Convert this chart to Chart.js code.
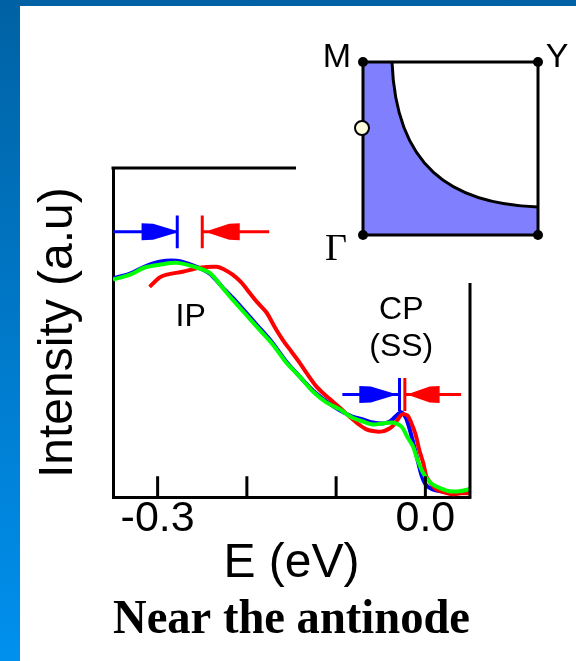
<!DOCTYPE html>
<html>
<head>
<meta charset="utf-8">
<script src="https://cdn.jsdelivr.net/npm/chart.js@4.4.1/dist/chart.umd.min.js"></script>
<style>
  html, body { margin: 0; padding: 0; }
  body { width: 576px; height: 661px; overflow: hidden;
         background: linear-gradient(to bottom, #0062a4, #0090ee); }
  #panel { position: absolute; left: 20px; top: 6px; width: 556px; height: 655px; background: #fff; }
</style>
</head>
<body>
<div id="panel"><canvas id="spectra"></canvas></div>
<script>
// EDCs near the antinode, energy in eV, intensity in arbitrary units (0..100 = frame height)
const blueEnergy = [-0.350, -0.331, -0.315, -0.298, -0.279, -0.259, -0.242, -0.228, -0.216, -0.203,
  -0.189, -0.171, -0.156, -0.141, -0.126, -0.111, -0.096, -0.082, -0.070, -0.059, -0.048, -0.042,
  -0.037, -0.031, -0.027, -0.022, -0.018, -0.014, -0.009, -0.004, 0.001, 0.008, 0.017, 0.027, 0.038, 0.049];
const blueIntensity = [66.5, 67.9, 70.0, 71.5, 71.8, 70.3, 68.0, 64.0, 60.6, 56.7,
  52.4, 46.8, 41.2, 36.7, 32.4, 29.1, 26.4, 24.5, 23.6, 22.7, 22.4, 22.7,
  23.6, 25.2, 25.8, 24.2, 21.0, 17.0, 11.5, 6.4, 3.6, 2.4, 1.8, 1.5, 1.5, 2.4];

const redEnergy = [-0.309, -0.298, -0.290, -0.272, -0.253, -0.234, -0.225, -0.216, -0.206, -0.197,
  -0.188, -0.178, -0.169, -0.160, -0.150, -0.141, -0.132, -0.122, -0.113, -0.104, -0.094, -0.085,
  -0.076, -0.066, -0.057, -0.048, -0.042, -0.037, -0.031, -0.026, -0.020, -0.016, -0.011, -0.007,
  -0.002, 0.001, 0.007, 0.012, 0.021, 0.030, 0.040, 0.049];
const redIntensity = [63.9, 66.7, 67.6, 68.5, 69.7, 70.0, 69.1, 67.6, 65.2, 62.1,
  59.1, 56.1, 51.8, 47.9, 44.2, 40.9, 37.3, 33.6, 31.2, 29.1, 26.7, 24.5,
  22.4, 20.6, 20.0, 20.0, 20.6, 21.5, 23.6, 25.2, 24.8, 22.7, 19.1, 14.5,
  10.0, 6.4, 3.9, 2.4, 1.5, 0.9, 1.2, 1.2];

const greenEnergy = [-0.350, -0.331, -0.315, -0.298, -0.279, -0.259, -0.242, -0.228, -0.216, -0.203,
  -0.189, -0.171, -0.156, -0.141, -0.126, -0.111, -0.096, -0.082, -0.070, -0.059, -0.048, -0.037,
  -0.027, -0.020, -0.014, -0.009, -0.003, 0.002, 0.008, 0.017, 0.027, 0.038, 0.049];
const greenIntensity = [66.1, 67.6, 69.7, 70.6, 71.2, 70.0, 68.2, 63.9, 60.0, 56.1,
  51.8, 46.4, 40.9, 36.7, 32.1, 28.8, 26.7, 24.2, 23.0, 22.1, 22.4, 22.7,
  21.5, 18.2, 15.5, 11.5, 7.6, 5.5, 3.9, 2.7, 1.8, 1.8, 2.4];

const xTickValues = [-0.3, -0.2, -0.1, 0.0];
const xTickLabels = ['-0.3', '', '', '0.0'];

// gap markers: bar position, shaft end, arrowhead back and tip (eV), level (a.u.)
const markerBar = [-0.278, -0.250, -0.029, -0.023];
const markerTail = [-0.350, -0.175, -0.093, 0.040];
const markerHeadBack = [-0.318, -0.208, -0.074, 0.016];
const markerHeadTip = [-0.281, -0.242, -0.037, -0.016];
const markerLevel = [80.6, 80.6, 31.2, 31.2];
const markerColors = ['#0000ff', '#ff0000', '#0000ff', '#ff0000'];

const peakLabels = ['IP', 'CP', '(SS)'];
const peakLabelEnergy = [-0.263, -0.027, -0.027];
const peakLabelIntensity = [54.8, 56.7, 45.5];

const SANS = "'Liberation Sans', Arial, sans-serif";
const SERIF = "'Liberation Serif', 'Times New Roman', serif";

function toPoints(xs, ys) {
  return xs.map((e, i) => ({ x: e, y: ys[i] }));
}

function arrowHead(ctx, back, tip, yc) {
  const dir = Math.sign(tip - back);
  const mid = back + dir * Math.abs(tip - back) * 0.35;
  ctx.beginPath();
  ctx.moveTo(back, yc - 8.5);
  ctx.lineTo(mid, yc - 8);
  ctx.lineTo(tip, yc - 1.5);
  ctx.lineTo(tip, yc + 1.5);
  ctx.lineTo(mid, yc + 8);
  ctx.lineTo(back, yc + 8.5);
  ctx.closePath();
  ctx.fill();
}

const overlay = {
  id: 'overlay',
  afterDatasetsDraw(chart) {
    const { ctx, chartArea: a, scales: { x, y } } = chart;
    ctx.save();
    ctx.strokeStyle = '#000';
    ctx.lineWidth = 3;
    // rest of the frame, partly hidden behind the inset
    ctx.beginPath();
    ctx.moveTo(a.left - 1.5, a.top);
    ctx.lineTo(276, a.top);
    ctx.moveTo(a.right, 277);
    ctx.lineTo(a.right, a.bottom + 1.5);
    ctx.stroke();
    // inward ticks
    ctx.beginPath();
    xTickValues.forEach(v => {
      const px = x.getPixelForValue(v);
      ctx.moveTo(px, a.bottom);
      ctx.lineTo(px, a.bottom - 21);
    });
    ctx.stroke();

    // gap markers
    markerBar.forEach((b, i) => {
      const yc = y.getPixelForValue(markerLevel[i]);
      const bx = x.getPixelForValue(b);
      ctx.strokeStyle = markerColors[i];
      ctx.fillStyle = markerColors[i];
      ctx.lineWidth = 3;
      ctx.beginPath();
      ctx.moveTo(x.getPixelForValue(markerTail[i]), yc);
      ctx.lineTo(bx, yc);
      ctx.moveTo(bx, y.getPixelForValue(markerLevel[i] + 5));
      ctx.lineTo(bx, y.getPixelForValue(markerLevel[i] - 5));
      ctx.stroke();
      arrowHead(ctx, x.getPixelForValue(markerHeadBack[i]), x.getPixelForValue(markerHeadTip[i]), yc);
    });

    // peak labels
    ctx.fillStyle = '#000';
    ctx.font = '32px ' + SANS;
    ctx.textAlign = 'center';
    ctx.textBaseline = 'middle';
    peakLabels.forEach((t, i) => {
      ctx.fillText(t, x.getPixelForValue(peakLabelEnergy[i]), y.getPixelForValue(peakLabelIntensity[i]));
    });
    ctx.restore();
  },
  afterDraw(chart) {
    // Brillouin-zone inset
    const ctx = chart.ctx;
    const L = 343, T = 56, R = 518, B = 229;
    ctx.save();
    ctx.fillStyle = '#8080ff';
    ctx.beginPath();
    ctx.moveTo(L, T);
    ctx.lineTo(372, T);
    ctx.bezierCurveTo(376, 160, 430, 198, R, 201);
    ctx.lineTo(R, B);
    ctx.lineTo(L, B);
    ctx.closePath();
    ctx.fill();
    ctx.strokeStyle = '#000';
    ctx.lineWidth = 3;
    ctx.beginPath();
    ctx.moveTo(372, T);
    ctx.bezierCurveTo(376, 160, 430, 198, R, 201);
    ctx.stroke();
    ctx.strokeRect(L, T, R - L, B - T);
    ctx.fillStyle = '#000';
    [[L, T], [R, T], [L, B], [R, B]].forEach(([cx, cy]) => {
      ctx.beginPath();
      ctx.arc(cx, cy, 5, 0, Math.PI * 2);
      ctx.fill();
    });
    ctx.beginPath();
    ctx.arc(L - 1, 122, 7, 0, Math.PI * 2);
    ctx.fillStyle = '#ffffe0';
    ctx.fill();
    ctx.lineWidth = 2;
    ctx.stroke();
    ctx.fillStyle = '#000';
    ctx.textAlign = 'center';
    ctx.textBaseline = 'alphabetic';
    ctx.font = '34px ' + SANS;
    ctx.fillText('M', 317, 61);
    ctx.fillText('Y', 537, 61);
    ctx.font = '38px ' + SERIF;
    ctx.fillText('\u0393', 316, 254);
    ctx.restore();
  }
};

new Chart(document.getElementById('spectra'), {
  type: 'line',
  data: {
    datasets: [
      { label: 'green', data: toPoints(greenEnergy, greenIntensity), borderColor: '#00ff00', order: 0 },
      { label: 'red', data: toPoints(redEnergy, redIntensity), borderColor: '#ff0000', order: 1 },
      { label: 'blue', data: toPoints(blueEnergy, blueIntensity), borderColor: '#0000ff', order: 2 }
    ]
  },
  options: {
    responsive: true,
    maintainAspectRatio: false,
    animation: false,
    layout: { padding: { top: 162, right: 106, left: 0, bottom: 0 } },
    elements: {
      point: { radius: 0 },
      line: { borderWidth: 4, tension: 0.3, fill: false }
    },
    plugins: {
      legend: { display: false },
      tooltip: { enabled: false },
      title: {
        display: true,
        position: 'bottom',
        fullSize: false,
        text: 'Near the antinode',
        color: '#000',
        font: { family: SERIF, size: 49, weight: 'bold', lineHeight: 1.2 },
        padding: { top: 0, bottom: 11 }
      }
    },
    scales: {
      x: {
        type: 'linear',
        min: -0.35,
        max: 0.05,
        grid: { display: false, drawTicks: false },
        border: { display: true, color: '#000', width: 3 },
        afterBuildTicks: s => { s.ticks = xTickValues.map(v => ({ value: v })); },
        ticks: {
          callback: (v, i) => xTickLabels[i],
          color: '#000',
          font: { family: SANS, size: 43, lineHeight: 1 },
          padding: 0,
          maxRotation: 0,
          autoSkip: false
        },
        title: {
          display: true,
          text: 'E (eV)',
          color: '#000',
          font: { family: SANS, size: 48, lineHeight: 1 },
          padding: { top: 0, bottom: 3 }
        },
        afterFit: s => { s.height = 94; }
      },
      y: {
        min: 0,
        max: 100,
        grid: { display: false, drawTicks: false },
        border: { display: true, color: '#000', width: 3 },
        ticks: { display: false },
        title: {
          display: true,
          text: 'Intensity (a.u)',
          color: '#000',
          font: { family: SANS, size: 48, lineHeight: 1 },
          padding: { top: 15, bottom: 0 }
        },
        afterFit: s => { s.width = 93; }
      }
    }
  },
  plugins: [overlay]
});
</script>
</body>
</html>
